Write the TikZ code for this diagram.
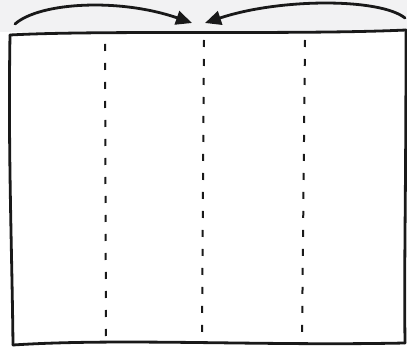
\documentclass[tikz,border=0pt]{standalone}
\usetikzlibrary{arrows.meta}
\begin{document}
\begin{tikzpicture}[x=1pt,y=-1pt,
  edge/.style={line width=2.8pt,line cap=round,line join=round,black!90},
  divider/.style={line width=2pt,dash pattern=on 7pt off 12pt,black!90},
  curvearrow/.style={line width=2.8pt,line cap=round,-{Triangle[length=16pt,width=14pt]},black!90}]
\useasboundingbox (0,0) rectangle (407,358);
\fill[white] (0,0) rectangle (407,358);
\fill[blue!4!gray!10] (0,0) rectangle (407,32);
% box corners
\coordinate (tl) at (10,35);
\coordinate (tr) at (406,30);
\coordinate (br) at (405,343);
\coordinate (bl) at (13,345);
\draw[edge] (tl) .. controls (100,30) and (300,35) .. (tr);
\draw[edge] (tl) .. controls (8,150) and (12,250) .. (bl);
\draw[edge] (bl) .. controls (120,338) and (260,346) .. (br);
\draw[edge] (br) .. controls (404,260) and (406,200) .. (tr);
% dividers
\coordinate (d1t) at (105,44); \coordinate (d1b) at (106,338);
\coordinate (d2t) at (204,40); \coordinate (d2b) at (202,342);
\coordinate (d3t) at (305,40); \coordinate (d3b) at (302,340);
\draw[divider] (d1t) -- (d1b);
\draw[divider] (d2t) -- (d2b);
\draw[divider] (d3t) -- (d3b);
% arrows
\coordinate (a1s) at (15,24);
\coordinate (a1e) at (192,23);
\coordinate (a2s) at (405,18);
\coordinate (a2e) at (205,23);
\draw[curvearrow] (a1s) .. controls (40,2) and (120,-2) .. (a1e);
\draw[curvearrow] (a2s) .. controls (380,-2) and (280,-2) .. (a2e);
\end{tikzpicture}
\end{document}
